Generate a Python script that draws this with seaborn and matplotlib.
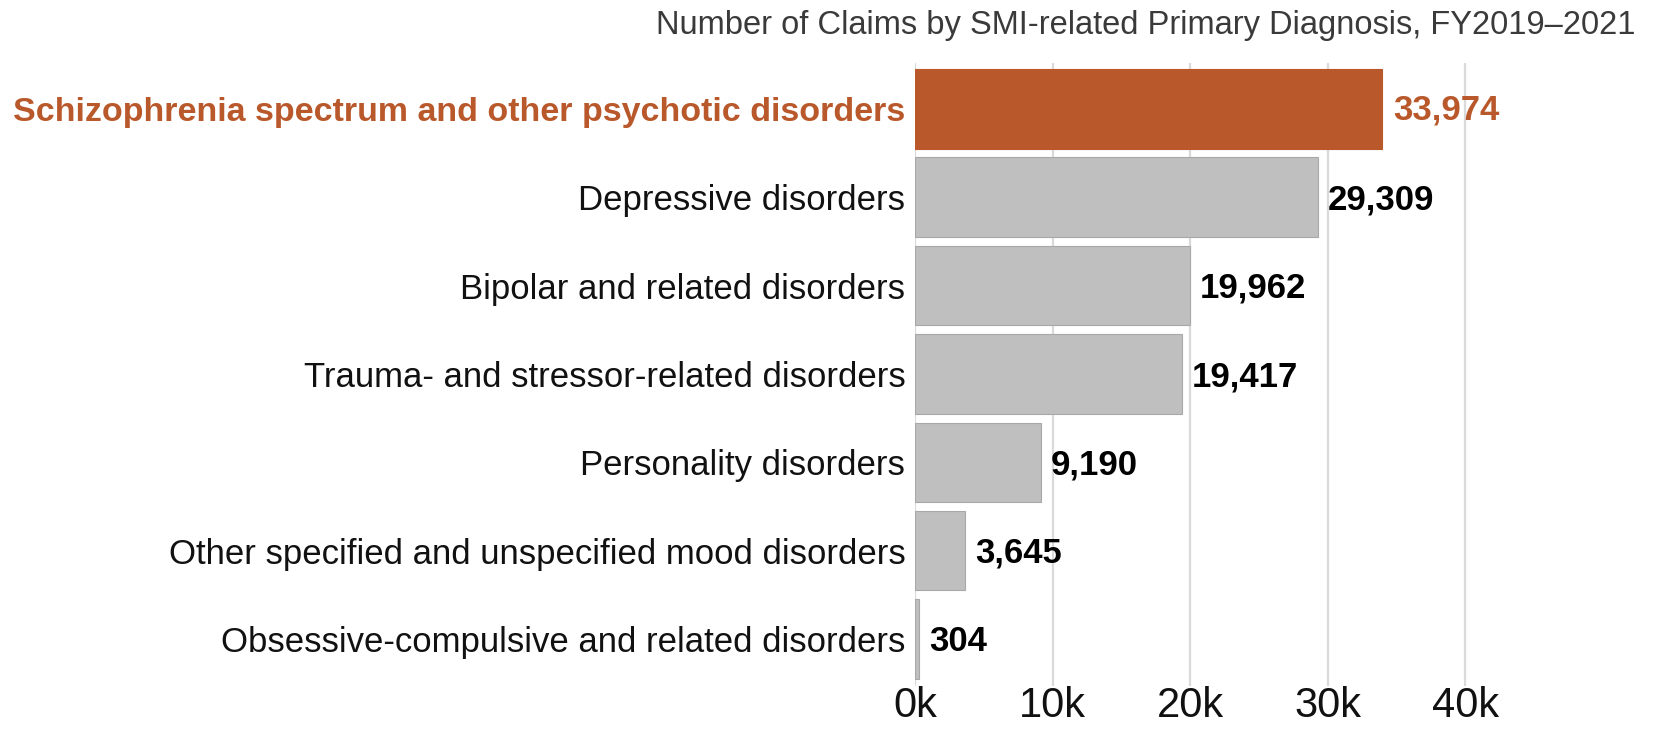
import matplotlib
matplotlib.use("Agg")
import matplotlib.pyplot as plt
import seaborn as sns
import pandas as pd

categories = [
    "Schizophrenia spectrum and other psychotic disorders",
    "Depressive disorders",
    "Bipolar and related disorders",
    "Trauma- and stressor-related disorders",
    "Personality disorders",
    "Other specified and unspecified mood disorders",
    "Obsessive-compulsive and related disorders",
]
claims = [33974, 29309, 19962, 19417, 9190, 3645, 304]
x_ticks = [0, 10000, 20000, 30000, 40000]
x_tick_labels = ["0k", "10k", "20k", "30k", "40k"]
title = "Number of Claims by SMI-related Primary Diagnosis, FY2019\u20132021"

highlight = "#B9582A"
gray = "#BFBFBF"
colors = [highlight] + [gray] * (len(categories) - 1)

sns.set_theme(style="white")
plt.rcParams["font.family"] = ["Liberation Sans", "DejaVu Sans"]

df = pd.DataFrame({"category": categories, "claims": claims})

fig = plt.figure(figsize=(16.55, 7.32), dpi=100)
ax = fig.add_axes([0.5529, 0.063, 0.374, 0.851])

sns.barplot(data=df, x="claims", y="category", hue="category",
            palette=colors, saturation=1, orient="h", width=0.9, legend=False,
            edgecolor="#A8A8A8", linewidth=0.8, ax=ax)
# highlighted bar has no gray outline
ax.patches[0].set_edgecolor(highlight)

ax.set_xlim(0, 45000)
ax.set_ylim(6.53, -0.52)
ax.set_xticks(x_ticks)
ax.set_xticklabels(x_tick_labels, fontsize=30, color="#111111")
ax.tick_params(axis="x", length=0, pad=0)
ax.tick_params(axis="y", length=0, pad=7)
ax.set_xlabel("")
ax.set_ylabel("")
for s in ax.spines.values():
    s.set_visible(False)
ax.set_axisbelow(True)
ax.grid(axis="x", color="#DADADA", linewidth=1.6)
ax.grid(axis="y", visible=False)

# category labels
ax.set_yticks(range(len(categories)))
ax.set_yticklabels(categories, fontsize=25, color="#111111")
top = ax.get_yticklabels()[0]
top.set_color(highlight)
top.set_fontweight("bold")
top.set_fontsize(24.5)

# value labels
for i, v in enumerate(claims):
    if i == 0:
        ax.annotate(f"{v:,}", (v, i), xytext=(8, -1), textcoords="offset points",
                    va="center", ha="left", fontsize=25, fontweight="bold",
                    color=highlight)
    else:
        ax.annotate(f"{v:,}", (v, i), xytext=(7, -2), textcoords="offset points",
                    va="center", ha="left", fontsize=25, fontweight="bold",
                    color="#000000")

fig.text(0.988, 0.965, title, ha="right", va="center", fontsize=23.5,
         color="#3A3A3A")

fig.savefig("out.png", dpi=100, facecolor="white")
